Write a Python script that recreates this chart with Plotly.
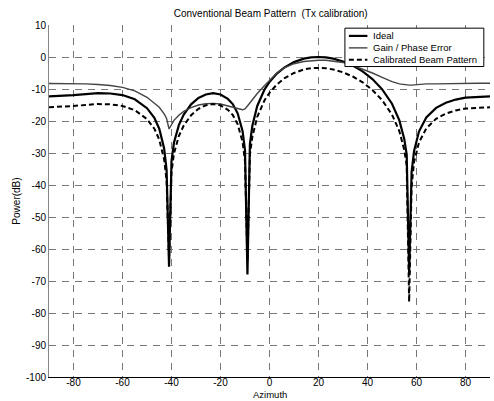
import plotly.graph_objects as go

azimuth = [-90, -85, -80, -75, -70, -65, -60, -55, -50, -47, -45, -43, -42, -41, -40, -39, -37, -35,
           -32, -29, -26, -23, -20, -17, -15, -13, -11, -10, -9, -8, -7, -5, -2, 0, 3, 6, 10, 14,
           17, 20, 23, 26, 30, 34, 38, 42, 46, 50, 53, 55, 56, 57, 58, 59, 61, 64, 68, 72, 76, 80,
           85, 90]

ideal = [-12.3, -12.2, -11.9, -11.6, -11.3, -11.4, -11.9, -13.2, -16.0, -19.0, -22.4, -28.6, -35.3,
         -65.5, -32.5, -26.8, -21.3, -18.0, -14.8, -12.8, -11.7, -11.3, -11.7, -13.1, -14.7, -17.6,
         -23.1, -29.2, -68.0, -27.2, -21.5, -15.3, -10.1, -7.8, -5.2, -3.3, -1.6, -0.5, -0.1, 0.0,
         -0.1, -0.5, -1.4, -2.7, -4.5, -6.9, -10.1, -14.6, -19.8, -25.6, -30.5, -67.5, -36.0, -29.4,
         -23.3, -18.9, -15.9, -14.3, -13.3, -12.7, -12.4, -12.3]

gain_phase_error = [-8.3, -8.3, -8.3, -8.4, -8.6, -8.9, -9.5, -10.6, -12.6, -14.3, -15.7, -17.8, -19.2,
                    -22.5, -21.0, -19.8, -18.2, -17.0, -15.8, -15.0, -14.6, -14.5, -14.7, -15.2, -15.6,
                    -16.1, -16.5, -16.2, -15.3, -14.3, -13.3, -11.4, -8.9, -7.3, -5.0, -3.4, -2.1, -1.4,
                    -1.1, -1.0, -1.0, -1.2, -1.7, -2.6, -3.7, -5.0, -6.4, -7.7, -8.4, -8.7, -8.8, -8.8,
                    -8.8, -8.7, -8.5, -8.4, -8.4, -8.3, -8.3, -8.2, -8.2, -8.2]

calibrated = [-15.7, -15.6, -15.3, -15.0, -14.7, -14.8, -15.3, -16.6, -19.4, -22.4, -25.8, -32.0, -38.7,
              -63.0, -35.9, -30.2, -24.7, -21.4, -18.2, -16.2, -15.1, -14.7, -15.1, -16.5, -18.1, -21.0,
              -26.5, -32.6, -64.0, -30.6, -24.9, -18.7, -13.5, -11.2, -8.6, -6.7, -5.0, -3.9, -3.5, -3.4,
              -3.5, -3.9, -4.8, -6.1, -7.9, -10.3, -13.5, -18.0, -23.2, -29.0, -33.9, -76.5, -40.5, -32.8,
              -26.7, -22.3, -19.3, -17.7, -16.7, -16.1, -15.8, -15.7]

series_names = ["Ideal", "Gain / Phase Error", "Calibrated Beam Pattern"]

x_ticks = [-80, -60, -40, -20, 0, 20, 40, 60, 80]
x_tick_labels = ["-80", "-60", "-40", "-20", "0", "20", "40", "60", "80"]
y_ticks = [10, 0, -10, -20, -30, -40, -50, -60, -70, -80, -90, -100]
y_tick_labels = ["10", "0", "-10", "-20", "-30", "-40", "-50", "-60", "-70", "-80", "-90", "-100"]

FONT = "Liberation Sans, Arial, sans-serif"
styles = [dict(color="black", width=2.2),
          dict(color="#444444", width=1.4),
          dict(color="black", width=2, dash="5px,3px")]

fig = go.Figure()
for name, vals, st in zip(series_names, [ideal, gain_phase_error, calibrated], styles):
    fig.add_trace(go.Scatter(x=azimuth, y=vals, mode="lines", name=name, line=st,
                             showlegend=False))

# compact legend box (drawn in paper coordinates)
lx0, lx1, ly0, ly1 = 0.671, 0.986, 0.882, 0.991
fig.add_shape(type="rect", xref="paper", yref="paper", x0=lx0, x1=lx1, y0=ly0, y1=ly1,
              line=dict(color="black", width=1), fillcolor="white", layer="above")
row_y = [0.969, 0.935, 0.901]
for name, st, yy in zip(series_names, styles, row_y):
    fig.add_shape(type="line", xref="paper", yref="paper", x0=0.680, x1=0.722, y0=yy, y1=yy,
                  line=st, layer="above")
    fig.add_annotation(text=name, xref="paper", yref="paper", x=0.730, y=yy, xanchor="left",
                       yanchor="middle", showarrow=False, font=dict(size=9.5, family=FONT))

# x-axis title placed below the tick labels
fig.add_annotation(text="Azimuth", xref="paper", yref="paper", x=0.5, y=-0.0675, xanchor="center",
                   yanchor="bottom", showarrow=False, borderpad=0,
                   font=dict(size=9.5, family=FONT))

grid = dict(showgrid=True, gridcolor="#777777", gridwidth=1, griddash="7px,6px", zeroline=False)

fig.update_layout(
    width=494, height=401,
    margin=dict(l=49, r=4, t=25, b=24),
    paper_bgcolor="white", plot_bgcolor="white",
    font=dict(family=FONT, size=10, color="black"),
    title=dict(text="Conventional Beam Pattern\u00a0 (Tx calibration)", x=0.548, xanchor="center",
               y=0.966, yanchor="middle", font=dict(size=10)),
    showlegend=False,
    xaxis=dict(range=[-90, 90], tickvals=x_ticks, ticktext=x_tick_labels,
               showline=True, linecolor="black", linewidth=1, mirror=False,
               ticks="", ticklabelstandoff=-4, automargin=False, **grid),
    yaxis=dict(range=[-100, 10], tickvals=y_ticks, ticktext=y_tick_labels,
               title=dict(text="Power(dB)", standoff=3, font=dict(size=10)),
               showline=True, linecolor="#888888", linewidth=1, mirror=False,
               ticks="", automargin=False, **grid),
)

fig.write_html("out.html", config={"displayModeBar": False},
               post_script="document.body.style.margin='0';document.body.style.overflow='hidden';")
